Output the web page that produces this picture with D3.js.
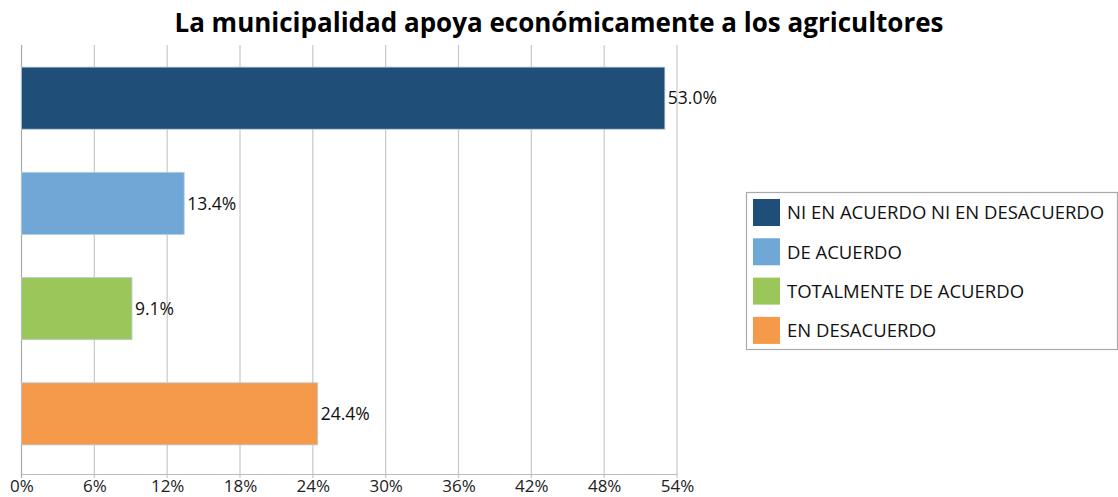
<!DOCTYPE html>
<html>
<head>
<meta charset="utf-8">
<script src="https://cdn.jsdelivr.net/npm/d3@7"></script>
<style>
  body { margin: 0; background: #fff; overflow: hidden; }
  #chart text { font-family: "Open Sans", "Noto Sans", sans-serif; }
</style>
</head>
<body>
<div id="chart"></div>
<script>
// Data
const categories = ["NI EN ACUERDO NI EN DESACUERDO", "DE ACUERDO", "TOTALMENTE DE ACUERDO", "EN DESACUERDO"];
const values = [53.0, 13.4, 9.1, 24.4];
const colors = ["#1f4e79", "#6fa7d6", "#9bc75a", "#f5994a"];
const xTicks = [0, 6, 12, 18, 24, 30, 36, 42, 48, 54];

const width = 1118, height = 497;
const margin = { top: 45, right: 441, bottom: 23, left: 21.5 };
const innerWidth = width - margin.left - margin.right;
const innerHeight = height - margin.top - margin.bottom;

const svg = d3.select("#chart").append("svg")
    .attr("width", width)
    .attr("height", height);

// Title
svg.append("text")
    .attr("x", 559)
    .attr("y", 32)
    .attr("text-anchor", "middle")
    .attr("font-size", "26px")
    .attr("font-weight", "bold")
    .attr("fill", "#000")
    .text("La municipalidad apoya económicamente a los agricultores");

const g = svg.append("g")
    .attr("transform", `translate(${margin.left},${margin.top})`);

const x = d3.scaleLinear().domain([0, 54]).range([0, innerWidth]);
const y = d3.scaleBand().domain(categories).range([0, innerHeight - 7]).paddingInner(0.41).paddingOuter(0.21);

// Gridlines
g.selectAll(".grid")
    .data(xTicks)
    .enter()
    .append("line")
    .attr("x1", d => x(d))
    .attr("x2", d => x(d))
    .attr("y1", 0)
    .attr("y2", innerHeight + 4)
    .attr("stroke", d => d === 0 ? "#aaa" : "#c8c8c8")
    .attr("stroke-width", 1.2);

// Bottom axis
const xAxis = g.append("g")
    .attr("transform", `translate(0,${innerHeight})`)
    .call(d3.axisBottom(x).tickValues(xTicks).tickFormat(d => d + "%").tickSize(0).tickPadding(6));
xAxis.select(".domain").attr("stroke", "#bbb").attr("stroke-width", 1.2);
xAxis.selectAll("text").attr("font-size", "17px").attr("fill", "#222")
    .style("font-family", "'Open Sans', 'Noto Sans', sans-serif");

// Bars
g.selectAll(".bar")
    .data(categories)
    .enter()
    .append("rect")
    .attr("x", 0)
    .attr("y", d => y(d))
    .attr("width", (d, i) => x(values[i]))
    .attr("height", y.bandwidth())
    .attr("fill", (d, i) => colors[i])
    .attr("stroke", "#b8c8d8")
    .attr("stroke-width", 0.8);

// Value labels
g.selectAll(".label")
    .data(categories)
    .enter()
    .append("text")
    .attr("x", (d, i) => x(values[i]) + 3)
    .attr("y", d => y(d) + y.bandwidth() / 2)
    .attr("dy", "0.35em")
    .attr("font-size", "17.5px")
    .attr("fill", "#111")
    .text((d, i) => values[i].toFixed(1) + "%");

// Legend
const legend = svg.append("g").attr("transform", "translate(746,192)");
legend.append("rect")
    .attr("x", 0.5).attr("y", 0.5)
    .attr("width", 371).attr("height", 157)
    .attr("fill", "#fff")
    .attr("stroke", "#aaa")
    .attr("stroke-width", 1.2);

const item = legend.selectAll(".item")
    .data(categories)
    .enter()
    .append("g")
    .attr("transform", (d, i) => `translate(7,${7 + i * 39.3})`);
item.append("rect")
    .attr("width", 27)
    .attr("height", 27)
    .attr("fill", (d, i) => colors[i]);
item.append("text")
    .attr("x", 34)
    .attr("y", 14)
    .attr("dy", "0.35em")
    .attr("font-size", "18.5px")
    .attr("fill", "#111")
    .text(d => d);
</script>
</body>
</html>
